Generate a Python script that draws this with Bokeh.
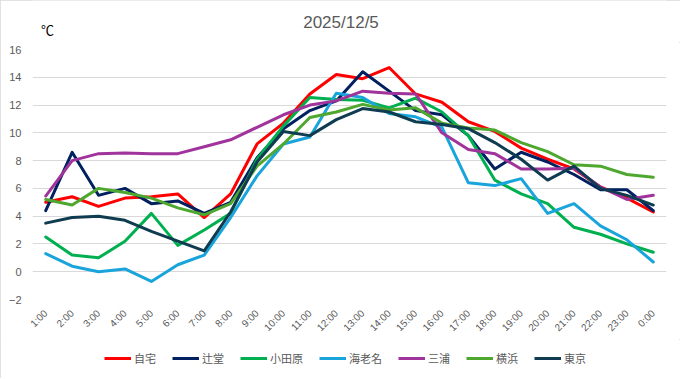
import math
from bokeh.plotting import figure
from bokeh.layouts import column
from bokeh.models import FactorRange, Range1d, FixedTicker, Label
from bokeh.embed import file_html
from bokeh.resources import INLINE

hours = ["1:00", "2:00", "3:00", "4:00", "5:00", "6:00", "7:00", "8:00", "9:00", "10:00",
         "11:00", "12:00", "13:00", "14:00", "15:00", "16:00", "17:00", "18:00", "19:00",
         "20:00", "21:00", "22:00", "23:00", "0:00"]

jitaku = [5.0, 5.4, 4.7, 5.3, 5.4, 5.6, 3.9, 5.6, 9.2, 10.7, 12.8, 14.2, 13.9, 14.7, 12.8,
          12.2, 10.8, 10.1, 8.9, 8.1, 7.4, 6.1, 5.3, 4.3]
tsujido = [4.4, 8.6, 5.5, 6.0, 4.9, 5.1, 4.2, 5.0, 8.2, 10.3, 11.6, 12.3, 14.4, 13.0, 11.6,
           11.3, 9.8, 7.4, 8.6, 7.9, 7.0, 5.9, 5.9, 4.4]
odawara = [2.5, 1.2, 1.0, 2.2, 4.2, 1.9, 3.0, 4.2, 8.1, 10.5, 12.55, 12.4, 12.35, 11.8, 12.5,
           11.5, 9.8, 6.6, 5.6, 4.9, 3.2, 2.7, 2.0, 1.4]
ebina = [1.3, 0.4, 0.0, 0.2, -0.7, 0.5, 1.2, 3.9, 6.9, 9.2, 9.7, 12.85, 12.55, 11.4, 11.15,
         10.4, 6.4, 6.2, 6.7, 4.2, 4.9, 3.3, 2.3, 0.7]
miura = [5.45, 8.0, 8.5, 8.55, 8.5, 8.5, 9.0, 9.5, 10.4, 11.3, 12.0, 12.3, 13.0, 12.85, 12.8,
         10.0, 8.8, 8.5, 7.4, 7.4, 7.45, 6.1, 5.2, 5.5]
yokohama = [5.2, 4.8, 6.0, 5.7, 5.3, 4.6, 4.1, 4.9, 7.6, 9.2, 11.1, 11.5, 12.05, 11.65, 11.8,
            10.7, 10.35, 10.2, 9.3, 8.65, 7.7, 7.6, 7.0, 6.8]
tokyo = [3.5, 3.9, 4.0, 3.7, 2.9, 2.2, 1.5, 4.3, 7.9, 10.1, 9.8, 10.95, 11.75, 11.5, 10.8,
         10.6, 10.3, 9.3, 8.1, 6.6, 7.6, 6.0, 5.5, 4.8]

series_names = ["自宅", "辻堂", "小田原", "海老名", "三浦", "横浜", "東京"]
series_values = [jitaku, tsujido, odawara, ebina, miura, yokohama, tokyo]
series_colors = ["#FF0000", "#002060", "#00B050", "#19A4DC", "#A0349C", "#4EA72E", "#0F3C50"]

y_ticks = [-2, 0, 2, 4, 6, 8, 10, 12, 14, 16]
title_text = "2025/12/5"
unit_text = "℃"

W = 680

# ---- title strip (its frame is aligned with the chart frame by the column layout) ----
tf = figure(width=W, height=42, x_range=Range1d(32, 666), y_range=Range1d(42, 0),
            output_backend="svg", toolbar_location=None, min_border=0,
            x_axis_type=None, y_axis_type=None)
tf.outline_line_color = None
tf.xgrid.visible = False
tf.ygrid.visible = False
tf.add_layout(Label(x=340.5, y=22, text=title_text, text_align="center",
                    text_baseline="middle", text_font="Liberation Sans",
                    text_font_size="17px", text_color="#595959"))
tf.add_layout(Label(x=47, y=29, text=unit_text, text_align="center",
                    text_baseline="middle", text_font="Noto Sans CJK JP",
                    text_font_size="13px", text_color="#000000"))

# ---- main chart ----
p = figure(width=W, height=297, x_range=FactorRange(*hours, range_padding=0),
           y_range=Range1d(-2, 16), output_backend="svg", toolbar_location=None,
           min_border_left=32, min_border_right=14, min_border_top=7, min_border_bottom=37)
p.outline_line_color = None

p.yaxis.ticker = FixedTicker(ticks=y_ticks)
p.yaxis.axis_line_color = None
p.yaxis.major_tick_line_color = None
p.yaxis.major_tick_out = 0
p.yaxis.minor_tick_line_color = None
p.yaxis.major_label_standoff = 11
p.yaxis.major_label_text_font = "Liberation Sans"
p.yaxis.major_label_text_font_size = "11px"
p.yaxis.major_label_text_color = "#595959"

p.xaxis.axis_line_color = None
p.xaxis.major_tick_line_color = None
p.xaxis.major_tick_out = 0
p.xaxis.major_label_orientation = math.pi / 4
p.xaxis.major_label_standoff = 12
p.xaxis.major_label_text_font = "Liberation Sans"
p.xaxis.major_label_text_font_size = "10px"
p.xaxis.major_label_text_color = "#595959"

p.xgrid.grid_line_color = None
p.ygrid.grid_line_color = "#D9D9D9"
p.ygrid.grid_line_width = 1

for vals, col in zip(series_values, series_colors):
    p.line(x=hours, y=vals, line_color=col, line_width=3, line_join="round",
           line_cap="round")

# ---- legend strip (series drawn out of view, only their legend entries show) ----
lf = figure(width=W, height=39, x_range=FactorRange(*hours, range_padding=0),
            y_range=Range1d(100, 101), output_backend="svg", toolbar_location=None,
            min_border=0, x_axis_type=None, y_axis_type=None)
lf.outline_line_color = None
lf.xgrid.visible = False
lf.ygrid.visible = False
for name, vals, col in zip(series_names, series_values, series_colors):
    lf.line(x=hours, y=vals, line_color=col, line_width=3, legend_label=name)
lg = lf.legend[0]
lg.orientation = "horizontal"
lg.location = (72, 12)
lg.border_line_color = None
lg.background_fill_alpha = 0
lg.padding = 0
lg.margin = 0
lg.spacing = 16
lg.glyph_width = 27
lg.glyph_height = 14
lg.label_height = 14
lg.label_standoff = 3
lg.label_text_font = "Noto Sans CJK JP"
lg.label_text_font_size = "11px"
lg.label_text_color = "#595959"

layout = column(tf, p, lf, spacing=0)
layout.styles = {"outline": "1px solid #D9D9D9", "outline-offset": "-1px"}
open("out.html", "w").write(file_html(layout, INLINE))
